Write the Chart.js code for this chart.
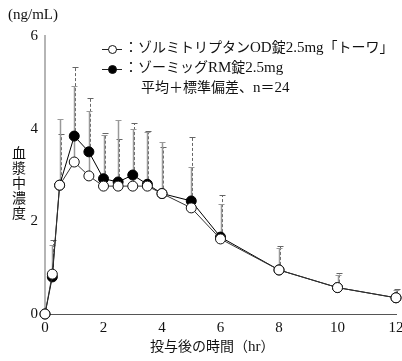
<!DOCTYPE html>
<html>
<head>
<meta charset="utf-8">
<script src="https://cdn.jsdelivr.net/npm/chart.js@4"></script>
<style>
  body { margin: 0; background: #fff; }
  #wrap { position: relative; width: 402px; height: 361px; font-family: "Liberation Serif", "Noto Sans CJK JP", serif; color: #111; }
  canvas { position: absolute; left: 0; top: 0; }
  .txt { position: absolute; white-space: nowrap; font-size: 14px; line-height: 1; }
  .sym { display: inline-block; position: relative; width: 20px; height: 10px; vertical-align: middle; margin-right: 2px; }
  .sym .ln { position: absolute; left: 0; right: 0; top: 5px; border-top: 1px solid #222; }
  .sym .dot { position: absolute; left: 6px; top: 1px; width: 7px; height: 7px; border-radius: 50%; border: 1px solid #111; background: #fff; }
  .sym .dot.fill { background: #000; }
  .lat { font-size: 15px; }
</style>
</head>
<body>
<div id="wrap">
  <canvas id="chart" width="402" height="361"></canvas>
  <div class="txt" style="left:8px;top:7px;font-size:15px">(ng/mL)</div>
  <div class="txt" style="left:12px;top:146px;font-size:14px;line-height:15px;width:15px;white-space:normal">血漿中濃度</div>
  <div class="txt" style="left:150px;top:339px;font-size:14px">投与後の時間（<span class="lat">hr</span>）</div>
  <div class="txt" style="left:102px;top:40px"><span class="sym"><span class="ln"></span><span class="dot"></span></span>：ゾルミトリプタン<span class="lat">OD</span>錠<span class="lat">2.5mg</span>「トーワ」</div>
  <div class="txt" style="left:102px;top:60px"><span class="sym"><span class="ln"></span><span class="dot fill"></span></span>：ゾーミッグ<span class="lat">RM</span>錠<span class="lat">2.5mg</span></div>
  <div class="txt" style="left:141px;top:80px">平均＋標準偏差、<span class="lat">n</span>＝<span class="lat">24</span></div>
</div>
<script>
const times = [0, 0.25, 0.5, 1, 1.5, 2, 2.5, 3, 3.5, 4, 5, 6, 8, 10, 12]
const odMean = [0, 0.86, 2.78, 3.28, 2.98, 2.76, 2.76, 2.76, 2.76, 2.6, 2.29, 1.62, 0.95, 0.57, 0.35]
const odTop = [0, 1.5, 4.2, 4.92, 4.38, 3.87, 4.19, 4.0, 3.93, 3.72, 3.18, 2.38, 1.42, 0.85, 0.52]
const rmMean = [0, 0.8, 2.78, 3.84, 3.5, 2.92, 2.85, 3.0, 2.8, 2.6, 2.44, 1.66, 0.95, 0.57, 0.35]
const rmTop = [0, 1.6, 3.88, 5.33, 4.67, 3.91, 3.78, 4.12, 3.95, 3.61, 3.82, 2.57, 1.47, 0.89, 0.54]
const xTicks = [0, 2, 4, 6, 8, 10, 12]
const yTicks = [0, 2, 4, 6]

const errorBars = {
  id: "errorBars",
  beforeDatasetsDraw(chart) {
    const ctx = chart.ctx
    const x = chart.scales.x
    const y = chart.scales.y
    const sets = [
      { mean: rmMean, top: rmTop, color: "#666", dash: [3, 2], width: 1, dx: 1 },
      { mean: odMean, top: odTop, color: "#999", dash: [], width: 1.5, dx: 0 }
    ]
    ctx.save()
    sets.forEach(s => {
      ctx.strokeStyle = s.color
      times.forEach((t, i) => {
        if (s.top[i] <= s.mean[i]) return
        const px = Math.round(x.getPixelForValue(t)) + s.dx + 0.5
        const y0 = y.getPixelForValue(s.mean[i])
        const y1 = Math.round(y.getPixelForValue(s.top[i])) + 0.5
        ctx.lineWidth = s.width
        ctx.setLineDash(s.dash)
        ctx.beginPath()
        ctx.moveTo(px, y0)
        ctx.lineTo(px, y1)
        ctx.stroke()
        ctx.setLineDash([])
        ctx.lineWidth = 1
        ctx.beginPath()
        ctx.moveTo(px - 3, y1)
        ctx.lineTo(px + 3, y1)
        ctx.stroke()
      })
    })
    ctx.restore()
  }
}

new Chart(document.getElementById("chart"), {
  type: "line",
  data: {
    datasets: [
      {
        label: "ゾルミトリプタンOD錠2.5mg「トーワ」",
        data: times.map((t, i) => ({ x: t, y: odMean[i] })),
        borderColor: "#333",
        borderWidth: 1,
        pointRadius: 5,
        pointBackgroundColor: "#fff",
        pointBorderColor: "#111",
        pointBorderWidth: 1,
        tension: 0,
        clip: false
      },
      {
        label: "ゾーミッグRM錠2.5mg",
        data: times.map((t, i) => ({ x: t, y: rmMean[i] })),
        borderColor: "#000",
        borderWidth: 1,
        pointRadius: 5,
        pointBackgroundColor: "#000",
        pointBorderColor: "#000",
        pointBorderWidth: 1,
        tension: 0,
        clip: false
      }
    ]
  },
  options: {
    responsive: false,
    animation: false,
    layout: { padding: { left: 0, top: 36, right: 5, bottom: 27 } },
    plugins: { legend: { display: false }, tooltip: { enabled: false } },
    scales: {
      x: {
        type: "linear",
        min: 0,
        max: 12,
        afterBuildTicks: scale => { scale.ticks = xTicks.map(v => ({ value: v })) },
        afterFit: scale => { scale.height = 20; scale.paddingLeft = 0; scale.paddingRight = 0 },
        grid: { display: false, drawTicks: true, tickLength: 3, color: "#555" },
        border: { color: "#555", width: 1 },
        ticks: { color: "#111", font: { family: "Liberation Serif", size: 15 }, padding: 2, maxRotation: 0 }
      },
      y: {
        min: 0,
        max: 6,
        afterBuildTicks: scale => { scale.ticks = yTicks.map(v => ({ value: v })) },
        afterFit: scale => { scale.width = 45 },
        grid: { display: false, drawTicks: true, tickLength: 4, color: "#aaa" },
        border: { color: "#b5b5b5", width: 2 },
        ticks: { color: "#111", font: { family: "Liberation Serif", size: 15 }, padding: 3 }
      }
    }
  },
  plugins: [errorBars]
})
</script>
</body>
</html>
